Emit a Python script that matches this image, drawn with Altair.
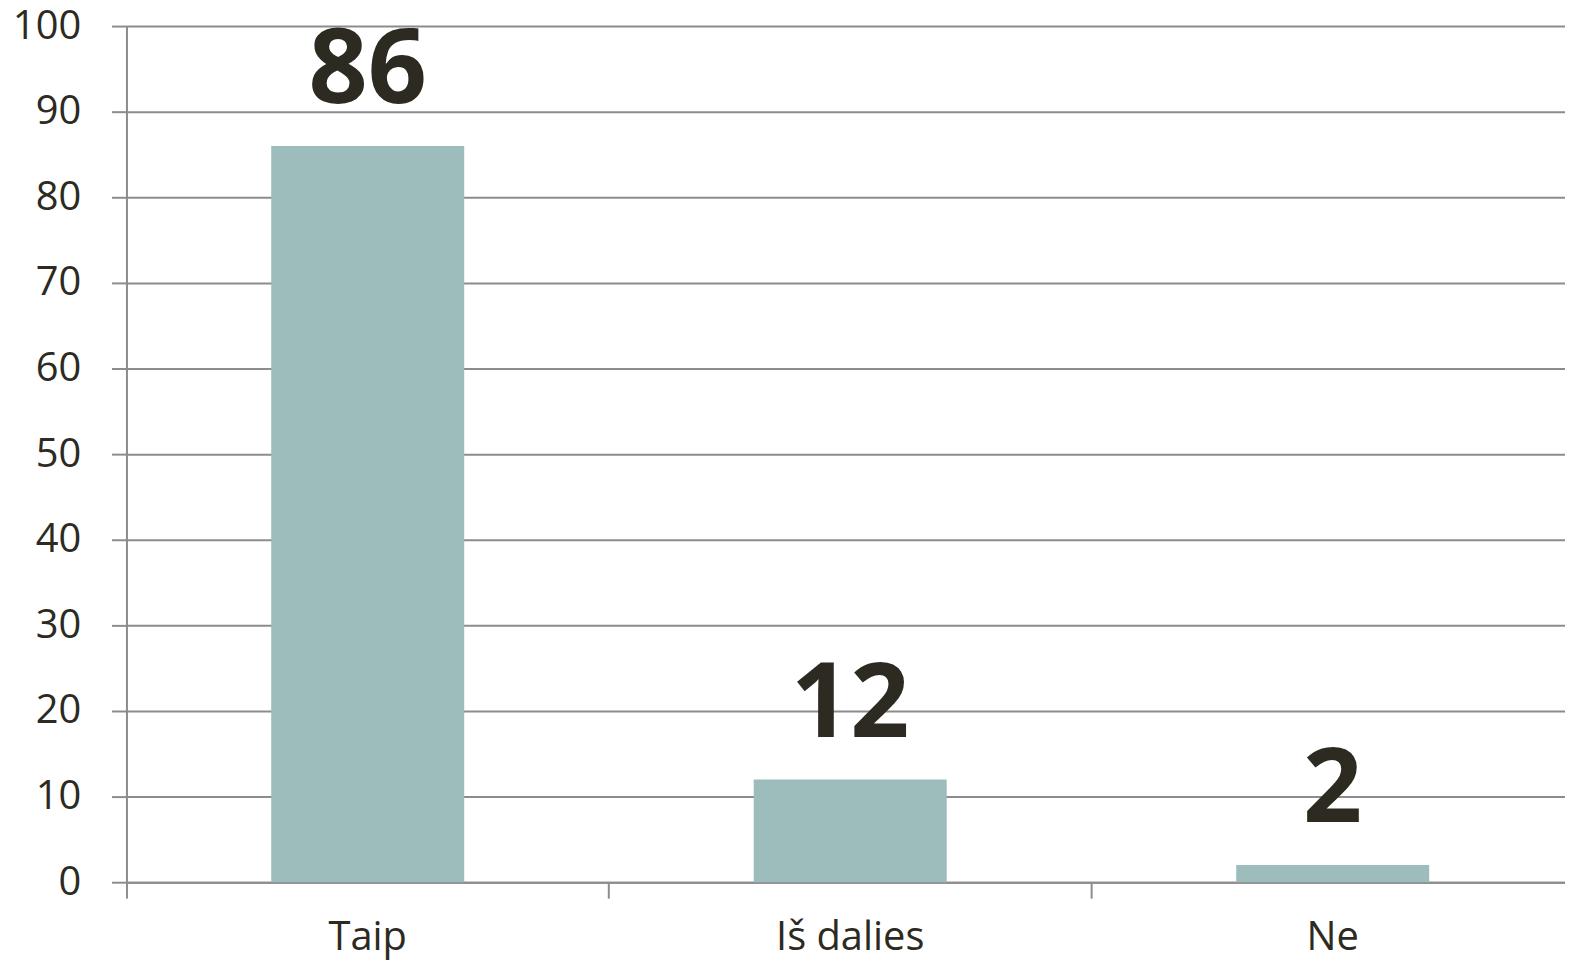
import altair as alt
import pandas as pd

categories = ["Taip", "Iš dalies", "Ne"]
values = [86, 12, 2]

df = pd.DataFrame({"cat": categories, "val": values})

FONT = "Open Sans"
DARK = "#2d2a22"
GRAY = "#8c8c8c"

xscale = alt.Scale(paddingInner=0, paddingOuter=0, range=[0, 1454])

x = alt.X("cat:N", sort=categories, title=None, scale=xscale,
          axis=alt.Axis(labelAngle=0, labelFont=FONT, labelFontSize=40, labelColor=DARK,
                        labelBaseline="alphabetic", labelPadding=52,
                        tickSize=16, tickColor=GRAY, tickWidth=2, bandPosition=0,
                        domainColor=GRAY, domainWidth=2, grid=False))
y = alt.Y("val:Q", title=None,
          scale=alt.Scale(domain=[0, 100], nice=False),
          axis=alt.Axis(values=list(range(0, 101, 10)), labelFont=FONT, labelFontSize=40,
                        labelColor=DARK, labelPadding=31, tickSize=15, tickColor=GRAY,
                        tickWidth=2, domainColor=GRAY, domainWidth=2,
                        gridColor=GRAY, gridWidth=2, grid=True, labelBaseline="middle"))

bars = alt.Chart(df).mark_bar(color="#9dbdbc", width=alt.RelativeBandSize(0.4)).encode(x=x, y=y)
labels = alt.Chart(df).mark_text(font=FONT, fontSize=104, fontWeight="bold", color=DARK,
                                 baseline="alphabetic", dy=-43).encode(
    x=alt.X("cat:N", sort=categories, scale=xscale),
    y="val:Q", text="val:Q")

chart = alt.layer(bars, labels).properties(
    width=1445, height=860,
    padding={"left": 119, "top": 16, "right": 0, "bottom": 77},
    autosize=alt.AutoSizeParams(type="none"),
).configure_view(stroke=None).configure(background="white")

chart.save("out.html", embed_options={"renderer": "svg", "actions": False})
